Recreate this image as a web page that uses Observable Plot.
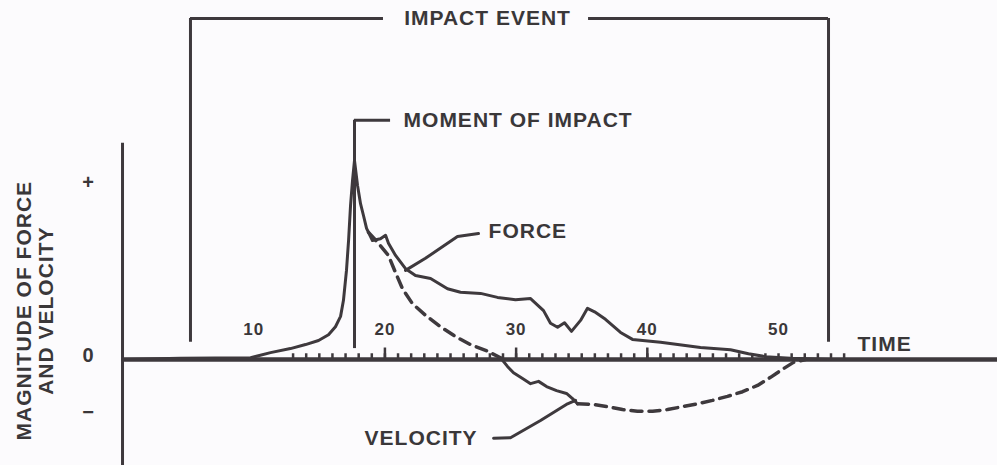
<!DOCTYPE html>
<html>
<head>
<meta charset="utf-8">
<script src="https://cdn.jsdelivr.net/npm/d3@7"></script>
<script src="https://cdn.jsdelivr.net/npm/@observablehq/plot@0.6"></script>
<style>
  html, body { margin: 0; padding: 0; background: #fcfbfd; }
  #chart { width: 997px; height: 465px; }
</style>
</head>
<body>
<div id="chart"></div>
<script>
// ---- data (time units, magnitude units) ----
const forceT = [0, 4.42, 9.76, 11.28, 12.80, 13.95, 14.94, 15.70, 16.23, 16.62, 16.84, 17.07, 17.23, 17.38, 17.53, 17.68, 17.91, 18.14, 18.37, 18.60, 19.05, 19.66, 20.05, 20.27, 20.81, 21.57, 22.33, 23.48, 24.77, 25.76, 27.29, 28.58, 29.95, 31.10, 32.09, 32.62, 33.16, 33.69, 34.22, 34.91, 35.44, 35.98, 36.81, 37.96, 38.87, 41.01, 44.05, 46.34, 47.71, 49.01, 50.91, 53.96];
const forceV = [0, 0.02, 0.03, 0.12, 0.19, 0.26, 0.33, 0.43, 0.57, 0.75, 1.03, 1.55, 2.07, 2.68, 3.11, 3.46, 3.03, 2.71, 2.50, 2.28, 2.07, 2.10, 2.16, 2.02, 1.81, 1.58, 1.46, 1.41, 1.23, 1.17, 1.15, 1.08, 1.04, 1.06, 0.85, 0.63, 0.56, 0.64, 0.49, 0.68, 0.89, 0.83, 0.70, 0.47, 0.35, 0.30, 0.21, 0.17, 0.10, 0.05, 0.02, 0];

// velocity: dashed part 1, solid middle part, dashed part 2
const velT1 = [18.75, 19.51, 20.27, 20.81, 21.34, 22.10, 23.09, 24.24, 25.38, 26.52, 27.67, 28.81];
const velV1 = [2.21, 2.02, 1.81, 1.51, 1.23, 0.97, 0.77, 0.57, 0.40, 0.26, 0.16, 0.03];
const velT2 = [28.81, 29.34, 29.80, 30.49, 31.10, 31.71, 32.32, 33.08, 33.84, 34.30, 34.68];
const velV2 = [0.03, -0.12, -0.23, -0.33, -0.42, -0.38, -0.47, -0.54, -0.59, -0.68, -0.77];
const velT3 = [34.68, 35.82, 36.97, 38.11, 39.25, 40.40, 41.54, 42.68, 43.83, 44.97, 46.11, 47.26, 48.40, 49.39, 50.30, 51.14, 52.06];
const velV3 = [-0.77, -0.78, -0.82, -0.87, -0.90, -0.90, -0.87, -0.82, -0.77, -0.71, -0.64, -0.56, -0.45, -0.31, -0.17, -0.05, 0];

// axis ticks and labels
const xTickLabels = [10, 20, 30, 40, 50];
const xMajorTicks = [20, 30, 40];
const xMinorTicks = d3.range(13, 56, 1);
const yTickValues = [3, 0, -1];
const yTickLabels = ["+", "0", "\u2212"];
const yTitle = ["MAGNITUDE OF FORCE", "AND VELOCITY"];

// annotations
const impactEvent = {t0: 5.18, t1: 53.81, top: 5.93, bottom: 0.30, gapL: 19.89, gapR: 35.52, labelT: 27.82, label: "IMPACT EVENT"};
const moment = {t: 17.68, bottom: 0.19, top: 4.16, endT: 20.43, labelT: 21.42, label: "MOMENT OF IMPACT"};
const forceLeaderT = [21.57, 23.09, 25.53, 27.13];
const forceLeaderV = [1.55, 1.76, 2.14, 2.19];
const forceLabel = {t: 27.9, v: 2.23, text: "FORCE"};
const velLeaderT = [28.28, 29.57, 31.86, 33.92, 34.53];
const velLeaderV = [-1.37, -1.36, -1.06, -0.77, -0.71];
const velLabel = {t: 27.52, v: -1.37, text: "VELOCITY"};
const timeLabel = {t: 56.02, v: 0.26, text: "TIME"};

// ---- build ----
const zip = (ts, vs) => ts.map((t, i) => ({t, v: vs[i]}));
const force = zip(forceT, forceV);
const vel1 = zip(velT1, velV1), vel2 = zip(velT2, velV2), vel3 = zip(velT3, velV3);
const ink = "#3e393d";
const txt = "#3a3739";
const font = "Liberation Sans, Arial, Helvetica, sans-serif";

const xDomain = [-9.3, 66.69];
const yDomain = [-1.843, 6.243];

const chart = Plot.plot({
  width: 997,
  height: 465,
  marginTop: 0, marginBottom: 0, marginLeft: 0, marginRight: 0,
  x: {domain: xDomain, axis: null},
  y: {domain: yDomain, axis: null},
  style: {background: "#fcfbfd", fontFamily: font, letterSpacing: "1px"},
  marks: [
    // axes
    Plot.ruleY([0], {x1: 0, x2: xDomain[1], stroke: ink, strokeWidth: 4.5}),
    Plot.ruleX([0], {y1: yDomain[0], y2: 3.76, stroke: ink, strokeWidth: 3}),
    Plot.ruleX(xMinorTicks, {y1: 0, y2: 0.1, stroke: ink, strokeWidth: 2.5}),
    Plot.ruleX(xMajorTicks, {y1: 0, y2: 0.2, stroke: ink, strokeWidth: 2.5}),
    Plot.text(xTickLabels, {x: d => d, y: 0.52, text: d => String(d), fontSize: 17, fontWeight: "bold", fill: txt}),
    Plot.text(yTickValues, {x: -2.59, y: d => d, dy: -4, text: (d, i) => yTickLabels[i], fontSize: 20, fontWeight: "bold", fill: txt}),
    Plot.text(yTitle, {x: (d, i) => [-7.47, -5.79][i], y: 0.85, text: d => d, rotate: -90, fontSize: 21, fontWeight: "bold", fill: txt}),
    // impact event bracket
    Plot.ruleX([impactEvent.t0, impactEvent.t1], {y1: impactEvent.bottom, y2: impactEvent.top, stroke: ink, strokeWidth: 3}),
    Plot.ruleY([impactEvent.top], {x1: impactEvent.t0, x2: impactEvent.gapL, stroke: ink, strokeWidth: 3}),
    Plot.ruleY([impactEvent.top], {x1: impactEvent.gapR, x2: impactEvent.t1, stroke: ink, strokeWidth: 3}),
    Plot.text([impactEvent], {x: "labelT", y: "top", text: "label", fontSize: 21, fontWeight: "bold", fill: txt}),
    // moment of impact
    Plot.ruleX([moment.t], {y1: moment.bottom, y2: moment.top, stroke: ink, strokeWidth: 3}),
    Plot.ruleY([moment.top], {x1: moment.t, x2: moment.endT, stroke: ink, strokeWidth: 3}),
    Plot.text([moment], {x: "labelT", y: "top", text: "label", textAnchor: "start", fontSize: 21, fontWeight: "bold", fill: txt}),
    // curves
    Plot.line(force, {x: "t", y: "v", stroke: ink, strokeWidth: 3, curve: "linear"}),
    Plot.line(vel1, {x: "t", y: "v", stroke: ink, strokeWidth: 3.5, strokeDasharray: "11,7"}),
    Plot.line(vel2, {x: "t", y: "v", stroke: ink, strokeWidth: 3}),
    Plot.line(vel3, {x: "t", y: "v", stroke: ink, strokeWidth: 3.5, strokeDasharray: "11,7"}),
    // leaders and labels
    Plot.line(zip(forceLeaderT, forceLeaderV), {x: "t", y: "v", stroke: ink, strokeWidth: 3}),
    Plot.text([forceLabel], {x: "t", y: "v", text: "text", textAnchor: "start", fontSize: 21, fontWeight: "bold", fill: txt}),
    Plot.line(zip(velLeaderT, velLeaderV), {x: "t", y: "v", stroke: ink, strokeWidth: 3}),
    Plot.text([velLabel], {x: "t", y: "v", text: "text", textAnchor: "end", dx: -6, fontSize: 21, fontWeight: "bold", fill: txt}),
    Plot.text([timeLabel], {x: "t", y: "v", text: "text", textAnchor: "start", fontSize: 21, fontWeight: "bold", fill: txt})
  ]
});
document.getElementById("chart").appendChild(chart);
</script>
</body>
</html>
